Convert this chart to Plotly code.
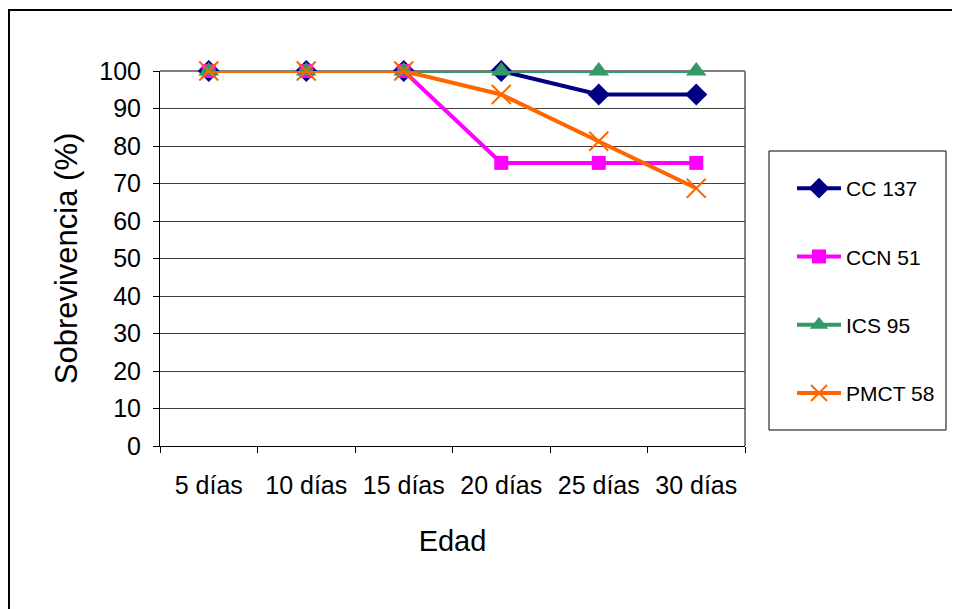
import plotly.graph_objects as go

categories = ["5 días", "10 días", "15 días", "20 días", "25 días", "30 días"]
cc137 = [100, 100, 100, 100, 93.75, 93.75]
ccn51 = [100, 100, 100, 75.5, 75.5, 75.5]
ics95 = [100, 100, 100, 100, 100, 100]
pmct58 = [100, 100, 100, 93.75, 81.25, 68.75]
y_ticks = list(range(0, 101, 10))

font = "Liberation Sans, Arial, sans-serif"

# page body has an 8px margin, so the figure is drawn 8px smaller and shifted
OFF = 8
W, H = 960 - OFF, 609 - OFF
L, R, T, B = 160 - OFF, 745 - OFF, 71 - OFF, 446 - OFF

def px(x):  # page x -> paper
    return (x - OFF - L) / (R - L)

def py(y):  # page y -> paper
    return (B - (y - OFF)) / (B - T)

fig = go.Figure()
fig.add_trace(go.Scatter(x=categories, y=cc137, name="CC 137", legendgroup="a", mode="lines+markers",
                         line=dict(color="#000080", width=4), cliponaxis=False,
                         marker=dict(symbol="diamond", size=17, color="#000080")))
fig.add_trace(go.Scatter(x=categories, y=ccn51, name="CCN 51", legendgroup="b", mode="lines+markers",
                         line=dict(color="#FF00FF", width=4), cliponaxis=False,
                         marker=dict(symbol="square", size=14, color="#FF00FF")))
fig.add_trace(go.Scatter(x=categories, y=ics95, name="ICS 95", legendgroup="c", mode="lines+markers",
                         line=dict(color="#339966", width=4), cliponaxis=False,
                         marker=dict(symbol="triangle-up", size=18, color="#339966")))
fig.add_trace(go.Scatter(x=categories, y=pmct58, name="PMCT 58", legendgroup="d", mode="lines+markers",
                         line=dict(color="#FF6600", width=4), cliponaxis=False,
                         marker=dict(symbol="x-thin-open", size=19,
                                     line=dict(color="#FF6600", width=2))))

fig.update_layout(
    width=W, height=H,
    margin=dict(l=L, r=W - R, t=T, b=H - B),
    paper_bgcolor="white", plot_bgcolor="white",
    font=dict(family=font, color="black"),
    showlegend=True,
    legend=dict(x=px(792), y=py(168), xanchor="left", yanchor="top",
                font=dict(size=21, family=font), tracegroupgap=38, itemwidth=44,
                bgcolor="rgba(0,0,0,0)", borderwidth=0, traceorder="grouped"),
    xaxis=dict(type="category", showgrid=False, showline=True, linecolor="black", linewidth=1,
               ticks="outside", tickson="boundaries", ticklen=6, tickcolor="black",
               tickfont=dict(size=25, family=font), ticklabelstandoff=17,
               title=dict(text="Edad", font=dict(size=29, family=font), standoff=32),
               range=[-0.5, 5.5]),
    yaxis=dict(range=[0, 100], tickvals=y_ticks, showgrid=True, gridcolor="#404040", gridwidth=1,
               showline=True, linecolor="black", linewidth=1, ticks="outside", ticklen=6,
               tickcolor="black", tickfont=dict(size=25, family=font), ticklabelstandoff=7,
               title=dict(text="Sobrevivencia (%)", font=dict(size=31, family=font), standoff=12),
               zeroline=False),
    shapes=[
        dict(type="rect", xref="paper", yref="paper", x0=px(9), x1=px(975), y0=py(10), y1=py(625),
             line=dict(color="black", width=2), fillcolor="rgba(0,0,0,0)", layer="below"),
        dict(type="line", xref="paper", yref="paper", x0=0, x1=1, y0=1, y1=1,
             line=dict(color="#808080", width=2), layer="below"),
        dict(type="line", xref="paper", yref="paper", x0=1, x1=1, y0=0, y1=1,
             line=dict(color="#808080", width=2), layer="below"),
        dict(type="rect", xref="paper", yref="paper", x0=px(769), x1=px(946), y0=py(151), y1=py(430),
             line=dict(color="black", width=1), fillcolor="rgba(0,0,0,0)"),
    ],
)

fig.write_html("out.html")
